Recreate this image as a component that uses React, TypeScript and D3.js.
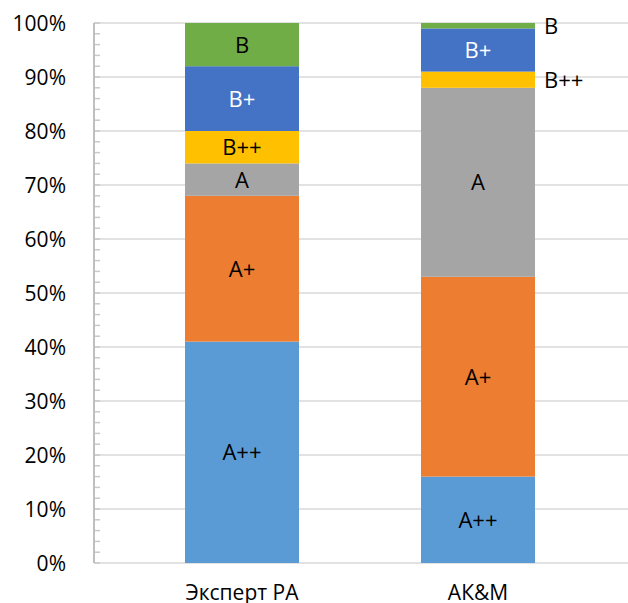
import React from "react";
import * as d3 from "d3";

const categories = ["Эксперт РА", "АК&M"];
const seriesNames = ["A++", "A+", "A", "B++", "B+", "B"];
const seriesValues: number[][] = [
  [41, 16],
  [27, 37],
  [6, 35],
  [6, 3],
  [12, 8],
  [8, 1],
];
const seriesColors = ["#5B9BD5", "#ED7D31", "#A5A5A5", "#FFC000", "#4472C4", "#70AD47"];
const labelColors = ["#000", "#000", "#000", "#000", "#fff", "#000"];
const yTicks = [0, 10, 20, 30, 40, 50, 60, 70, 80, 90, 100];

export default function App() {
  const W = 628, H = 603;
  const left = 94, right = 628, top = 23, bottom = 563;
  const y = d3.scaleLinear().domain([0, 100]).range([bottom, top]);
  const x = d3.scaleBand().domain(categories).range([67, 653]).paddingInner(0.517).paddingOuter(0.5);
  const font = "'Open Sans', sans-serif";

  const data = categories.map((c, i) => {
    const row: any = { cat: c };
    seriesNames.forEach((s, j) => (row[s] = seriesValues[j][i]));
    return row;
  });
  const stacked = d3.stack().keys(seriesNames)(data);
  const minorTicks = d3.range(0, 101, 2);

  return (
    <svg width={W} height={H} style={{ position: "absolute", left: 0, top: 0 }}>
      {yTicks.map((t) => (
        <line key={"g" + t} x1={left} x2={right} y1={y(t)} y2={y(t)} stroke="#d9d9d9" strokeWidth={1.5} />
      ))}
      {minorTicks.map((t) => (
        <line key={"m" + t} x1={left} x2={left + 6} y1={y(t)} y2={y(t)} stroke="#c8c8c8" strokeWidth={1.5} />
      ))}
      <line x1={left} x2={left} y1={top} y2={bottom} stroke="#bfbfbf" strokeWidth={2} />
      {yTicks.map((t) => (
        <text key={"t" + t} x={66} y={y(t)} dy="0.36em" textAnchor="end" fontFamily={font} fontSize={21} fill="#000">
          {t}%
        </text>
      ))}
      {stacked.map((layer, j) =>
        layer.map((d, i) => (
          <rect
            key={j + "-" + i}
            x={x(categories[i])}
            width={x.bandwidth()}
            y={y(d[1])}
            height={y(d[0]) - y(d[1])}
            fill={seriesColors[j]}
          />
        ))
      )}
      {stacked.map((layer, j) =>
        layer.map((d, i) => {
          const v = d[1] - d[0];
          const outside = v < 5 && i === 1;
          const cx = outside ? (x(categories[i]) as number) + x.bandwidth() + 9 : (x(categories[i]) as number) + x.bandwidth() / 2;
          const cy = y((d[0] + d[1]) / 2);
          return (
            <text
              key={"l" + j + "-" + i}
              x={cx}
              y={cy}
              dy="0.36em"
              textAnchor={outside ? "start" : "middle"}
              fontFamily={font}
              fontSize={22}
              fill={outside ? "#000" : labelColors[j]}
            >
              {seriesNames[j]}
            </text>
          );
        })
      )}
      {categories.map((c) => (
        <text key={c} x={(x(c) as number) + x.bandwidth() / 2} y={600} textAnchor="middle" fontFamily={font} fontSize={21} fill="#000">
          {c}
        </text>
      ))}
    </svg>
  );
}
